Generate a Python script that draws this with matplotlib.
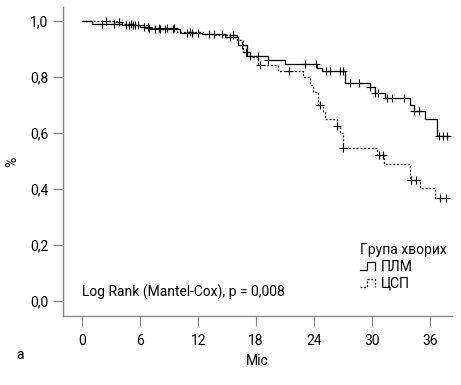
import matplotlib.pyplot as plt
import numpy as np
from matplotlib.legend_handler import HandlerBase
from matplotlib.lines import Line2D

plt.rcParams['font.family'] = ['Roboto', 'DejaVu Sans']

# ПЛМ group: event times (months) and survival after each event
plm_t = [0, 1.0, 4.1, 6.0, 7.0, 10.1, 12.4, 14.8, 16.1, 17.1, 19.2, 21.0,
         24.3, 24.8, 27.2, 29.8, 30.3, 31.4, 33.9, 34.4, 35.5, 36.7]
plm_s = [1.0, 0.99, 0.985, 0.978, 0.97, 0.958, 0.955, 0.944, 0.914, 0.875,
         0.861, 0.846, 0.832, 0.82, 0.78, 0.764, 0.743, 0.725, 0.70, 0.68,
         0.65, 0.59]
plm_cens = [2.0, 3.3, 4.5, 4.8, 5.2, 5.5, 6.4, 6.8, 7.5, 8.0, 8.6, 9.4,
            10.8, 11.4, 12.0, 13.6, 14.5, 15.3, 16.5, 17.4, 18.2, 19.2,
            23.1, 24.2, 25.2, 25.7, 26.7, 27.0, 27.7, 28.7, 29.8, 30.3,
            30.6, 31.6, 32.1, 33.3, 34.4, 34.9, 37.0, 37.4, 37.8]

# ЦСП group
csp_t = [0, 3.6, 4.1, 5.3, 6.7, 9.8, 12.5, 13.5, 16.0, 16.6, 17.4, 18.2,
         20.3, 22.9, 23.6, 23.9, 24.4, 24.9, 25.1, 26.4, 26.7, 27.0, 30.5,
         31.3, 33.9, 35.0, 36.5]
csp_s = [1.0, 0.995, 0.99, 0.985, 0.975, 0.96, 0.955, 0.95, 0.932, 0.89,
         0.871, 0.843, 0.82, 0.80, 0.77, 0.746, 0.70, 0.675, 0.65, 0.625,
         0.60, 0.547, 0.52, 0.49, 0.432, 0.404, 0.368]
csp_cens = [2.5, 3.8, 5.0, 5.8, 6.9, 7.9, 8.8, 9.5, 11.2, 13.1, 15.6,
            17.0, 18.4, 21.4, 24.6, 26.4, 27.0, 30.7, 31.2, 34.1, 34.6,
            37.1, 37.7]
t_end = 38.0

xticks = [0, 6, 12, 18, 24, 30, 36]
yticks = [0.0, 0.2, 0.4, 0.6, 0.8, 1.0]


def surv_at(times, surv, t):
    idx = np.searchsorted(times, t, side='right') - 1
    return np.array(surv)[idx]


class StepHandler(HandlerBase):
    def __init__(self, ls):
        super().__init__()
        self.ls = ls

    def create_artists(self, legend, orig_handle, xdescent, ydescent,
                       width, height, fontsize, trans):
        xs = np.array([0, 0.45, 0.45, 1.0, 1.0]) * width - xdescent
        ys = np.array([0.1, 0.1, 0.9, 0.9, 0.1]) * height - ydescent
        ln = Line2D(xs, ys, color='black', lw=0.9, ls=self.ls, transform=trans)
        return [ln]


fig = plt.figure(figsize=(4.61, 3.85), dpi=100)
ax = fig.add_axes([0.1367, 0.179, 0.9805 - 0.1367, 0.982 - 0.179])

h1, = ax.step(plm_t + [t_end], plm_s + [plm_s[-1]], where='post',
              color='black', lw=0.9)
h2, = ax.step(csp_t + [t_end], csp_s + [csp_s[-1]], where='post',
              color='black', lw=0.9, ls=(0, (1.5, 1.5)))
ax.plot(plm_cens, surv_at(plm_t, plm_s, plm_cens), ls='none', marker='+',
        ms=6, mew=0.8, color='black')
ax.plot(csp_cens, surv_at(csp_t, csp_s, csp_cens), ls='none', marker='+',
        ms=6, mew=0.8, color='black')

ax.set_xlim(-2.0, 38.3)
ax.set_ylim(-0.054, 1.05)
ax.set_xticks(xticks)
ax.set_yticks(yticks)
ax.set_yticklabels([f'{v:.1f}'.replace('.', ',') for v in yticks])
for s in ['top', 'right']:
    ax.spines[s].set_visible(False)
for s in ['left', 'bottom']:
    ax.spines[s].set_color('#888888')
    ax.spines[s].set_linewidth(1.0)
ax.tick_params(colors='#888888', labelcolor='black', labelsize=10,
               length=7, width=0.8)
ax.tick_params(axis='x', pad=6)

ax.set_xlabel('Міс', fontsize=10, labelpad=4)
ax.set_ylabel('%', fontsize=10, labelpad=8)
fig.text(0.035, 0.078, 'а', fontsize=10, va='center')
ax.text(0.0, 0.03, 'Log Rank (Mantel-Cox), p = 0,008', fontsize=10,
        va='center')

leg = ax.legend([h1, h2], ['ПЛМ', 'ЦСП'], title='Група хворих',
                loc='lower left', bbox_to_anchor=(0.745, 0.06), frameon=False,
                fontsize=10, title_fontsize=10, handlelength=1.1,
                handletextpad=0.4, labelspacing=0.2, borderpad=0,
                handler_map={h1: StepHandler('-'),
                             h2: StepHandler((0, (1.5, 1.5)))})
leg._legend_box.align = 'left'

fig.savefig('out.png', dpi=100)
